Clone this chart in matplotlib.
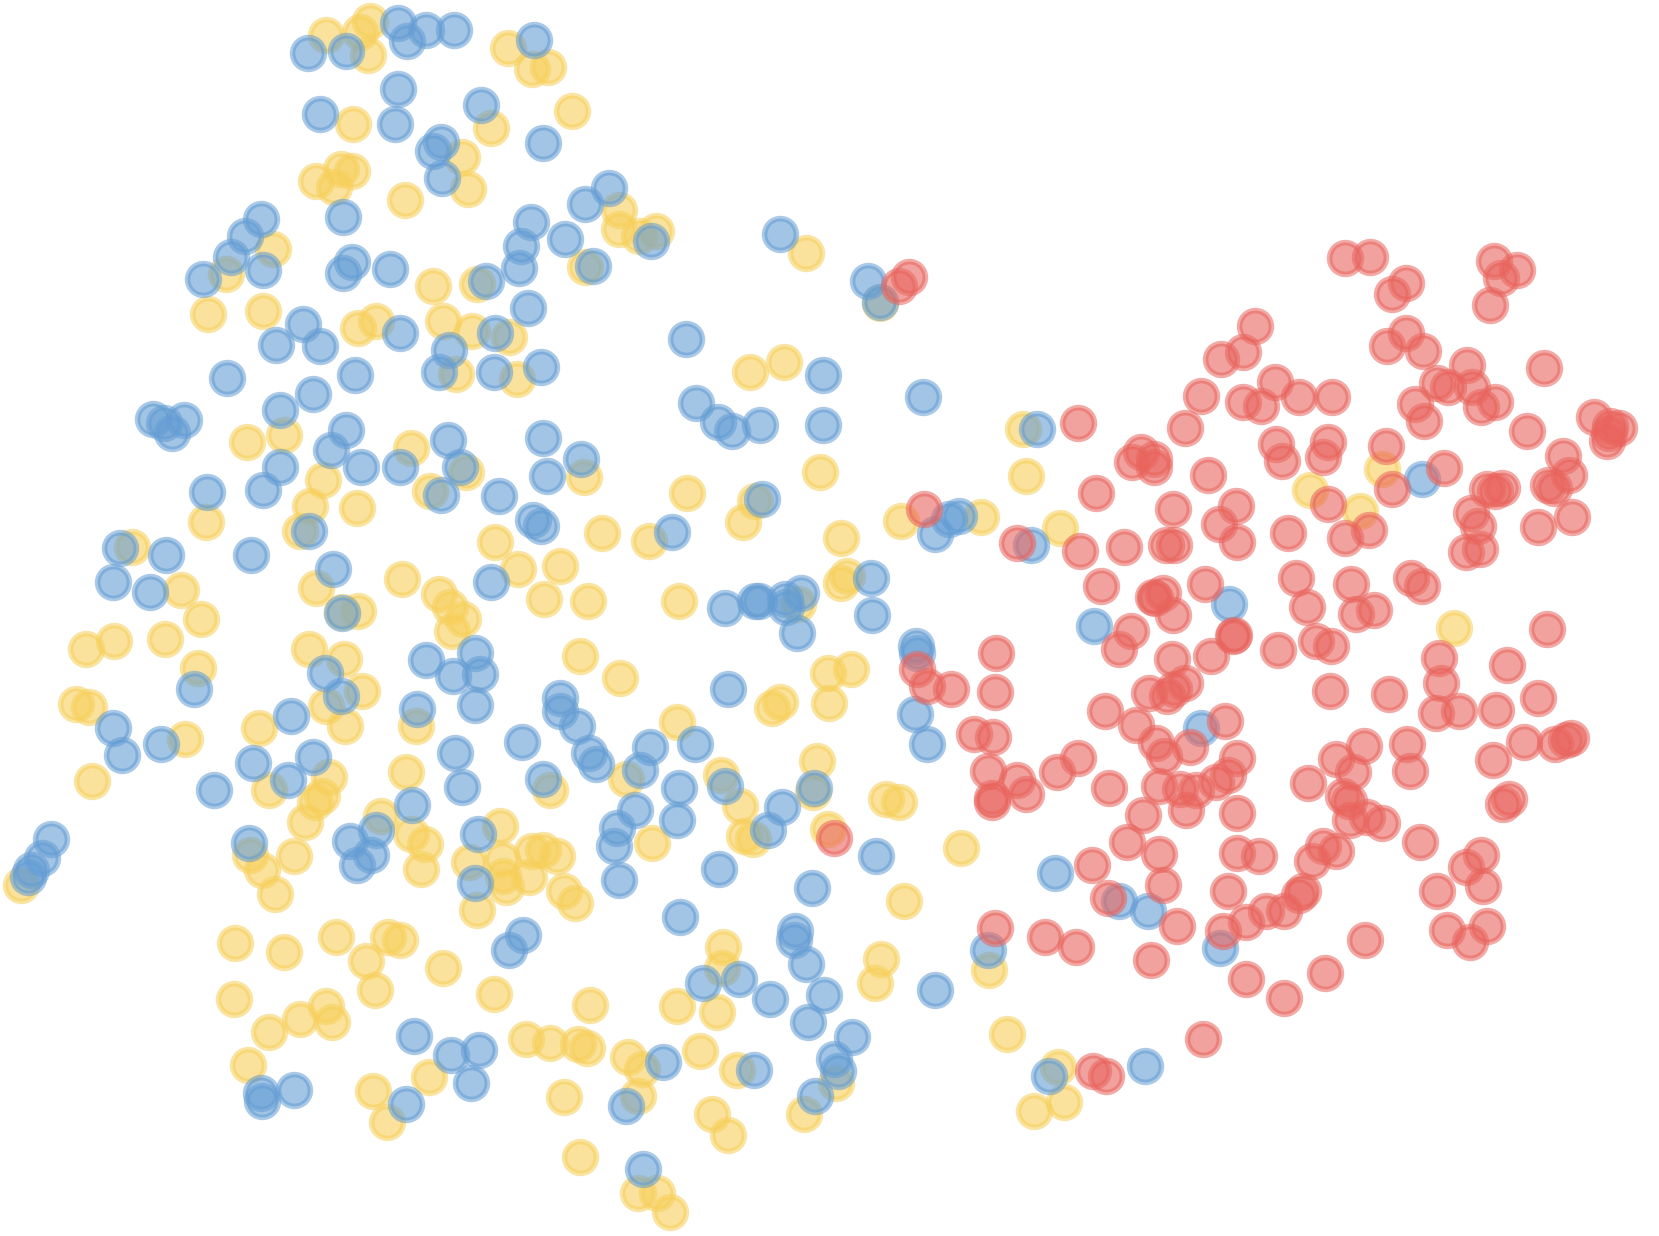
import matplotlib
matplotlib.use('Agg')
import matplotlib.pyplot as plt
import numpy as np

# no axes on the original, values are read off the picture (x, y)
yellow = [(308,33),(340,30),(350,20),(348,52),(480,45),(503,65),(518,63),(541,105),(334,117),(464,121),(437,148),
          (442,179),(299,171),(322,160),(333,162),(316,177),(383,189),(585,198),(585,216),(604,223),(620,218),(258,235),
          (214,259),(197,297),(249,294),(409,270),(451,268),(553,252),(762,239),(338,310),(355,303),(419,303),(446,313),
          (481,318),(431,353),(489,358),(709,352),(741,342),(233,418),(268,411),(388,423),(305,454),(440,446),(552,451),
          (406,464),(649,466),(714,473),(775,446),(195,493),(293,478),(284,502),(337,480),(702,493),(569,504),(613,511),
          (468,512),(125,517),(795,508),(490,538),(529,535),(380,547),(299,556),(171,558),(415,561),(425,574),(438,585),
          (514,566),(556,568),(642,568),(795,551),(801,544),(754,571),(338,577),(190,585),(108,606),(81,613),(156,604),
          (292,613),(427,596),(548,620),(325,623),(187,631),(586,641),(783,636),(804,632),(342,653),(308,667),(72,665),
          (84,668),(730,669),(737,663),(784,664),(326,686),(245,688),(393,686),(175,698),(640,682),(87,738),(311,734),
          (254,747),(384,730),(304,752),(298,758),(772,719),(681,732),(592,736),(520,747),(768,748),(699,762),(837,755),
          (850,758),(288,777),(360,771),(473,781),(388,788),(402,798),(236,808),(278,809),(248,822),(260,845),(398,821),
          (443,815),(474,812),(503,804),(513,803),(526,809),(475,828),(500,829),(478,838),(451,860),(533,842),(543,853),
          (616,797),(703,790),(712,793),(783,783),(908,801),(854,851),(222,891),(268,900),(318,885),(367,885),(378,888),
          (346,908),(419,915),(354,936),(467,939),(221,944),(308,951),(284,963),(314,966),(254,975),(558,950),(640,951),
          (678,956),(683,895),(682,915),(833,906),(827,929),(935,917),(952,977),(497,982),(520,986),(546,987),(555,990),
          (662,993),(594,999),(607,1010),(697,1011),(234,1006),(353,1031),(405,1018),(603,1036),(533,1037),(673,1053),
          (688,1073),(760,1053),(790,1023),(366,1060),(548,1093),(603,1127),(621,1127),(633,1145),(20,836),(1000,1008),
          (1006,1041),(977,1050),(967,405),(970,450),(927,489),(852,492),(1002,499),(1306,443),(1238,463),(1285,483),
          (1374,593),(832,286),(323,578)]

blue = [(291,50),(327,48),(376,22),(385,39),(403,28),(429,28),(505,38),(376,84),(302,108),(373,117),(455,99),(417,134),
        (409,143),(418,168),(513,135),(324,205),(247,207),(232,223),(218,243),(192,264),(249,255),(324,258),(333,248),
        (369,254),(459,266),(491,253),(492,232),(502,210),(534,226),(553,193),(576,178),(560,251),(615,228),(499,291),
        (286,306),(261,326),(302,327),(378,315),(424,331),(468,315),(215,357),(336,354),(415,352),(467,352),(511,347),
        (296,372),(265,387),(145,396),(155,400),(163,409),(174,397),(327,406),(313,425),(341,441),(378,441),(423,416),
        (435,441),(513,414),(549,434),(517,450),(265,441),(249,463),(196,465),(417,468),(472,469),(504,491),(511,497),
        (292,502),(237,524),(113,518),(157,524),(107,550),(142,559),(315,538),(464,550),(323,579),(449,617),(403,624),
        (428,639),(454,637),(307,636),(322,658),(183,651),(275,677),(394,670),(449,666),(529,660),(529,672),(545,686),
        (107,688),(115,713),(152,703),(239,721),(296,715),(272,737),(202,747),(430,712),(437,744),(493,701),(513,736),
        (557,712),(563,722),(605,728),(614,706),(657,703),(642,745),(685,743),(600,765),(583,782),(640,775),(580,799),
        (585,832),(389,761),(355,784),(331,795),(351,808),(337,817),(235,797),(452,788),(449,834),(48,793),(40,811),
        (29,822),(26,829),(680,821),(726,784),(739,763),(769,745),(828,809),(767,839),(643,867),(751,880),(750,888),
        (494,884),(481,898),(762,911),(698,925),(664,929),(728,944),(779,940),(764,966),(805,980),(884,936),(934,898),
        (391,979),(426,997),(453,992),(445,1023),(384,1043),(278,1030),(247,1033),(248,1040),(627,1004),(713,1011),
        (788,1001),(792,1012),(770,1036),(592,1045),(608,1105),(991,1017),(1082,1007),(1153,896),(997,825),(1058,851),
        (1085,861),(1135,688),(1034,592),(1162,571),(974,515),(884,505),(897,490),(906,488),(823,546),(824,581),(866,610),
        (867,617),(865,675),(876,703),(757,560),(742,566),(743,574),(753,598),(717,568),(714,568),(685,575),(688,651),
        (635,503),(720,472),(718,402),(692,407),(679,399),(658,381),(778,402),(778,354),(648,320),(737,221),(820,266),
        (832,285),(872,375),(980,405),(1344,453)]

red = [(1271,244),(1295,243),(1329,267),(1316,278),(1412,247),(1434,255),(1419,263),(1408,288),(1186,308),(1175,333),
       (1154,339),(1311,327),(1329,315),(1345,332),(1387,345),(1358,362),(1369,366),(1391,366),(1413,380),(1400,385),
       (1337,382),(1346,398),(1459,348),(1135,374),(1175,380),(1192,384),(1205,361),(1228,375),(1259,375),(1120,404),
       (1019,400),(1206,420),(1212,436),(1255,418),(1250,432),(1310,421),(1443,407),(1507,394),(1530,404),(1522,403),
       (1519,417),(1521,409),(1477,431),(1483,449),(1463,458),(1469,461),(1078,427),(1070,437),(1091,434),(1091,441),
       (1036,466),(1142,449),(1365,442),(1316,462),(1255,476),(1405,462),(1420,461),(1413,464),(1168,478),(1109,481),
       (1152,495),(1169,512),(1217,504),(1271,508),(1294,501),(1390,485),(1397,497),(1486,489),(1454,498),(873,481),
       (961,513),(1021,521),(1062,517),(1102,515),(1110,515),(1386,522),(1399,519),(1041,554),(1090,564),(1099,560),
       (1092,565),(1139,552),(1225,546),(1277,552),(1334,546),(1344,554),(1235,574),(1282,580),(1299,576),(1109,581),
       (1069,596),(1166,600),(1165,601),(1058,613),(1208,614),(1244,606),(1258,610),(1462,594),(941,617),(1108,623),
       (1145,620),(1360,622),(1424,628),(867,632),(876,648),(899,651),(940,654),(1120,645),(1110,651),(1103,658),
       (1086,655),(1257,653),(1313,656),(1362,645),(1454,660),(1044,672),(1074,685),(1158,681),(1357,674),(1379,672),
       (1414,671),(921,694),(939,696),(1093,702),(1125,706),(1100,714),(1289,705),(1330,703),(1440,701),(1470,703),
       (1480,699),(1485,697),(1019,716),(1169,716),(999,730),(934,729),(961,737),(1161,732),(1149,739),(1263,717),
       (1279,730),(1411,718),(1333,729),(1236,740),(1048,745),(1095,743),(1115,746),(1130,747),(938,754),(938,758),
       (970,750),(1121,765),(1269,752),(1275,757),(1426,755),(1421,760),(1080,770),(1169,768),(1276,775),(1292,772),
       (1306,778),(788,792),(1065,796),(1342,796),(1095,807),(1169,806),(1190,809),(1250,799),(1263,804),(1240,814),
       (1400,808),(1386,819),(1032,817),(1099,836),(1402,837),(1047,849),(1161,842),(1232,842),(1228,846),(1358,842),
       (1197,861),(1214,861),(1178,871),(1112,875),(1156,880),(940,877),(988,885),(1017,895),(1088,907),(1290,888),
       (1368,879),(1389,890),(1405,875),(1178,925),(1252,919),(1214,943),(1137,982),(1033,1012),(1045,1017),(850,270),
       (859,262)]

series = [(yellow, (247/255, 207/255, 90/255)),
          (blue, (100/255, 157/255, 212/255)),
          (red, (233/255, 100/255, 93/255))]

fig = plt.figure(figsize=(16.59, 12.36), dpi=100)
ax = fig.add_axes([0, 0, 1, 1])
for pts, col in series:
    xy = np.array(pts)
    ax.scatter(xy[:, 0], xy[:, 1], s=525, facecolors=[col + (0.6,)], edgecolors=[col + (0.55,)],
               linewidths=4.0, clip_on=False)

ax.set_xlim(0, 1568)
ax.set_ylim(1168, 0)
ax.axis('off')
fig.savefig('out.png', dpi=100)
